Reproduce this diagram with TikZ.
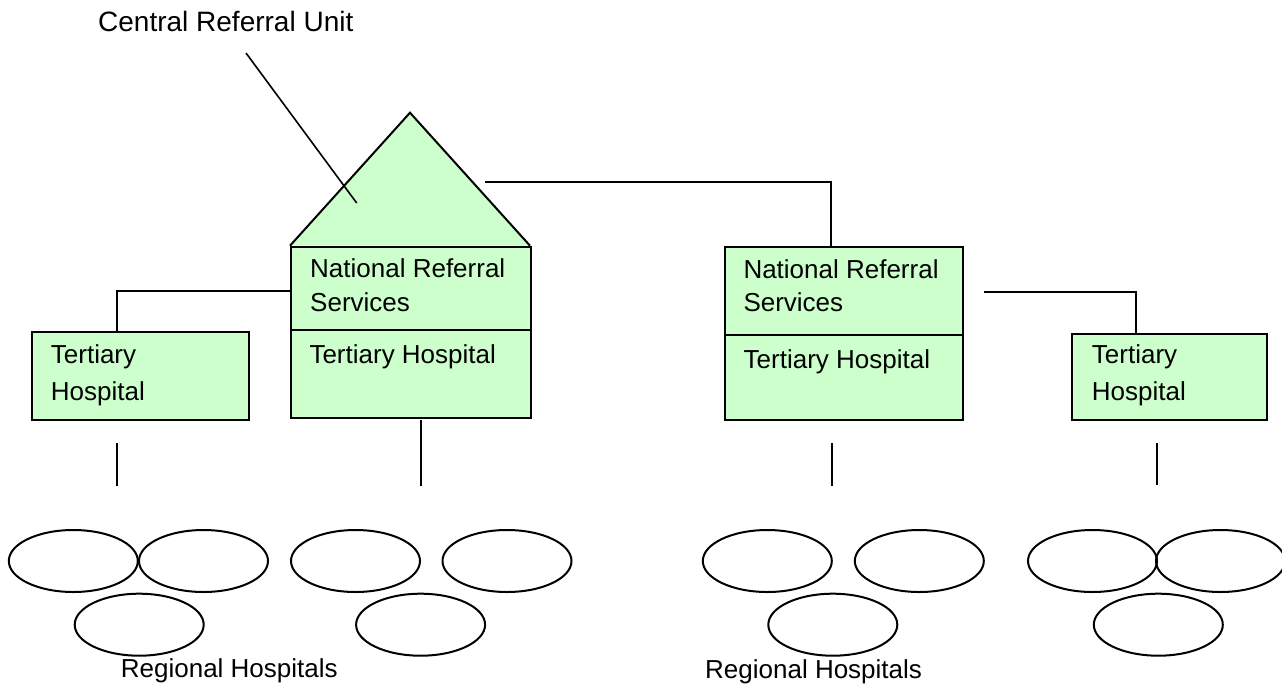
\documentclass[tikz,border=0pt]{standalone}
\usepackage{fontspec}
\setmainfont{Liberation Sans}
\usetikzlibrary{shapes.geometric}
\definecolor{boxgreen}{HTML}{CCFFCC}
\tikzset{
  box/.style={draw=black, fill=boxgreen, line width=2pt, rectangle, inner sep=0pt, anchor=north west},
  hosp/.style={draw=black, line width=2pt, ellipse, minimum width=129pt, minimum height=62pt, inner sep=0pt},
  txt/.style={anchor=base west, inner sep=0pt, font=\fontsize{26}{30}\selectfont},
  conn/.style={draw=black, line width=2pt},
}
\begin{document}
\begin{tikzpicture}[x=1pt,y=-1pt]
\useasboundingbox (0,0) rectangle (1282,686);

% roof of the central referral unit
\path[fill=boxgreen] (290,245.7) -- (410,112.7) -- (530,245.7) -- cycle;
\draw[conn, line join=miter] (290,245.7) -- (410,112.7) -- (530,245.7);

% boxes
\node[box, minimum width=240pt, minimum height=83.3pt] (nrs1) at (290,245.7) {};
\node[box, minimum width=240pt, minimum height=87.7pt] (th1) at (290,329) {};
\node[box, minimum width=217pt, minimum height=88.3pt] (tl) at (30.7,331) {};
\node[box, minimum width=237.7pt, minimum height=87.5pt] (nrs2) at (724,246) {};
\node[box, minimum width=237.7pt, minimum height=85.8pt] (th2) at (724,333.5) {};
\node[box, minimum width=195pt, minimum height=86pt] (tr) at (1071,333.3) {};

% box texts
\node[txt] (t1a) at (310,277.7) {National Referral};
\node[txt] (t1b) at (310,311.7) {Services};
\node[txt] (t1c) at (309.3,363.3) {Tertiary Hospital};
\node[txt] (t2a) at (50.7,363.3) {Tertiary};
\node[txt] (t2b) at (50.7,400.7) {Hospital};
\node[txt] (t3a) at (743.3,278.3) {National Referral};
\node[txt] (t3b) at (743.3,311.7) {Services};
\node[txt] (t3c) at (743.5,368.3) {Tertiary Hospital};
\node[txt] (t4a) at (1091.7,363.3) {Tertiary};
\node[txt] (t4b) at (1091.7,400) {Hospital};

% label and pointer
\node[txt, font=\fontsize{28}{32}\selectfont] (cru) at (98,31) {Central Referral Unit};
\coordinate (p0) at (246,53);
\coordinate (p1) at (356.7,203);
\draw[conn, line width=1.6pt] (p0) -- (p1);

% connectors
\coordinate (c1) at (116.7,291);
\draw[conn] (nrs1.west |- c1) -- (c1) -- (tl.north -| c1);
\coordinate (c2s) at (485,182);
\coordinate (c2) at (831,182);
\draw[conn] (c2s) -- (c2) -- (nrs2.north -| c2);
\coordinate (c3s) at (984,291.7);
\coordinate (c3) at (1135.7,291.7);
\draw[conn] (c3s) -- (c3) -- (tr.north -| c3);

% stubs
\coordinate (s1a) at (116.7,443.3); \coordinate (s1b) at (116.7,485.7);
\coordinate (s2a) at (420.7,420);   \coordinate (s2b) at (420.7,485.7);
\coordinate (s3a) at (831.6,443.3); \coordinate (s3b) at (831.6,485.7);
\coordinate (s4a) at (1156.7,443.3); \coordinate (s4b) at (1156.7,485);
\draw[conn] (s1a) -- (s1b);
\draw[conn] (s2a) -- (s2b);
\draw[conn] (s3a) -- (s3b);
\draw[conn] (s4a) -- (s4b);

% regional hospitals
\node[hosp] (r1) at (73.3,561) {};
\node[hosp] (r2) at (203.5,561) {};
\node[hosp] (r3) at (139.2,624.7) {};
\node[hosp] (r4) at (355.5,561) {};
\node[hosp] (r5) at (507,561) {};
\node[hosp] (r6) at (420.6,624.7) {};
\node[hosp] (r7) at (767.3,561) {};
\node[hosp] (r8) at (919.3,561) {};
\node[hosp] (r9) at (832.8,624.7) {};
\node[hosp] (r10) at (1092.5,561) {};
\node[hosp] (r11) at (1220.5,561) {};
\node[hosp] (r12) at (1158.3,624.7) {};

\node[txt] (rh1) at (120.7,677) {Regional Hospitals};
\node[txt] (rh2) at (705,678) {Regional Hospitals};
\end{tikzpicture}
\end{document}
